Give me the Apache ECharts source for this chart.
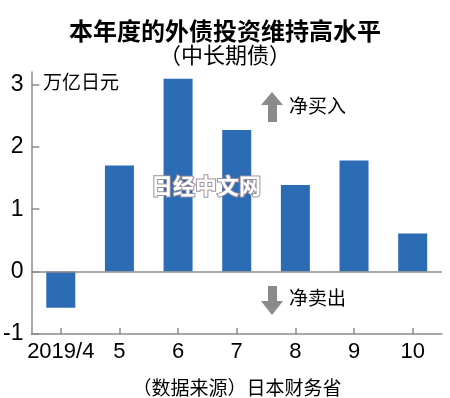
<!DOCTYPE html>
<html>
<head>
<meta charset="utf-8">
<script src="https://cdn.jsdelivr.net/npm/echarts@6/dist/echarts.min.js"></script>
<style>
  html, body { margin: 0; padding: 0; background: #fff; }
  #chart { width: 450px; height: 398px; }
</style>
</head>
<body>
<div id="chart"></div>
<script>
// 月份
const months = ['2019/4', '5', '6', '7', '8', '9', '10']
// 中长期债 净买入（万亿日元）
const netBuy = [-0.58, 1.70, 3.09, 2.27, 1.39, 1.78, 0.61]
// 纵轴刻度
const yTicks = [-1, 0, 1, 2, 3]

const cjk = '"Noto Sans CJK SC", sans-serif'
const narrow = '"Liberation Sans Narrow", "Liberation Sans", sans-serif'
const grayLine = '#8c8c8c'
const arrowGray = '#8a8a8a'

const chart = echarts.init(document.getElementById('chart'))

chart.setOption({
  animation: false,
  backgroundColor: '#fff',
  title: [
    {
      text: '本年度的外债投资维持高水平',
      left: 'center',
      top: 14,
      textStyle: { fontFamily: cjk, fontSize: 24, fontWeight: 'bold', color: '#000' }
    },
    {
      text: '（中长期债）',
      left: 'center',
      top: 39,
      textStyle: { fontFamily: cjk, fontSize: 22, fontWeight: 'normal', color: '#000' }
    },
    {
      text: '（数据来源）日本财务省',
      left: 232,
      textAlign: 'center',
      top: 373,
      textStyle: { fontFamily: cjk, fontSize: 19, fontWeight: 'normal', color: '#000' }
    }
  ],
  grid: {
    left: 30,
    right: 8,
    top: 72,
    bottom: 64
  },
  xAxis: {
    type: 'category',
    data: months,
    axisLine: { onZero: false, lineStyle: { color: grayLine, width: 1.5 } },
    axisTick: { show: true, inside: true, alignWithLabel: true, length: 6, lineStyle: { color: grayLine, width: 1.5 } },
    axisLabel: { interval: 0, fontFamily: narrow, fontSize: 22, color: '#000', margin: 7 }
  },
  yAxis: {
    type: 'value',
    min: -1,
    max: 3.2,
    axisLine: { show: true, lineStyle: { color: grayLine, width: 1.5 } },
    axisTick: { show: true, inside: true, length: 8, customValues: yTicks, lineStyle: { color: grayLine, width: 1.5 } },
    axisLabel: { fontFamily: narrow, fontSize: 23, color: '#000', margin: 8, customValues: yTicks },
    splitLine: { show: false }
  },
  series: [
    {
      type: 'bar',
      data: netBuy,
      barWidth: 29,
      itemStyle: { color: '#2b6cb4' },
      markLine: {
        silent: true,
        symbol: 'none',
        label: { show: false },
        lineStyle: { color: grayLine, width: 1.5, type: 'solid' },
        data: [{ yAxis: 0 }]
      }
    }
  ],
  graphic: [
    {
      type: 'text',
      left: 43,
      top: 72,
      style: { text: '万亿日元', fontFamily: cjk, fontSize: 19, fill: '#000' }
    },
    // 上箭头
    {
      type: 'polygon',
      shape: { points: [[272, 92], [283, 105], [277, 105], [277, 122], [268, 122], [268, 105], [261, 105]] },
      style: { fill: arrowGray }
    },
    {
      type: 'text',
      left: 289,
      top: 96,
      style: { text: '净买入', fontFamily: cjk, fontSize: 19, fill: '#000' }
    },
    // 下箭头
    {
      type: 'polygon',
      shape: { points: [[268, 286], [277, 286], [277, 301], [283, 301], [272, 315], [261, 301], [268, 301]] },
      style: { fill: arrowGray }
    },
    {
      type: 'text',
      left: 289,
      top: 288,
      style: { text: '净卖出', fontFamily: cjk, fontSize: 19, fill: '#000' }
    },
    // 水印
    {
      type: 'text',
      left: 150,
      top: 174,
      z: 100,
      style: {
        text: '日经中文网',
        fontFamily: cjk,
        fontSize: 22,
        fontWeight: 'bold',
        fill: '#ffffff',
        stroke: '#9a8f9a',
        lineWidth: 2
      }
    }
  ]
})
</script>
</body>
</html>
